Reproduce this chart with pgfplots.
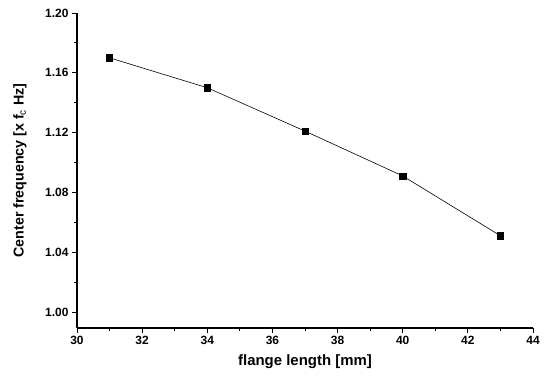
\documentclass[border=0pt]{standalone}
\usepackage{pgfplots}
\pgfplotsset{compat=1.18}
\usepackage{fontspec}
\setmainfont{Liberation Sans}
\begin{document}
\begin{tikzpicture}
\useasboundingbox (-77bp,-51bp) rectangle (474bp,328bp);
\begin{axis}[
  at={(0,0)}, anchor=south west,
  scale only axis, width=456bp, height=315bp,
  xmin=30, xmax=44, ymin=0.9893, ymax=1.20,
  axis lines*=left,
  axis line style={line width=1.3pt},
  xtick={30,32,...,44}, minor xtick={31,33,...,43},
  ytick={1.00,1.04,...,1.21}, minor ytick={1.02,1.06,...,1.19},
  tick align=outside, tick style={black, line width=0.9pt},
  major tick length=5bp, minor tick length=3bp,
  yticklabel style={/pgf/number format/.cd, fixed, fixed zerofill, precision=2},
  /pgf/number format/assume math mode=true,
  ticklabel style={font=\fontsize{12}{14}\selectfont\bfseries},
  xlabel={flange length [mm]}, ylabel={Center frequency [x f$_\mathrm{c}$ Hz]},
  xlabel style={font=\fontsize{15}{17}\selectfont\bfseries, at={(axis description cs:0.5,-0.108)}, anchor=center},
  ylabel style={font=\fontsize{14.3}{16}\selectfont\bfseries, at={(axis description cs:-0.125,0.5)}, anchor=center},
  clip=false,
]
\addplot[black, line width=0.6pt, mark=square*, mark size=3.1pt] coordinates {
  (31,1.170) (34,1.150) (37,1.121) (40,1.091) (43,1.051)
};
\end{axis}
\end{tikzpicture}
\end{document}
